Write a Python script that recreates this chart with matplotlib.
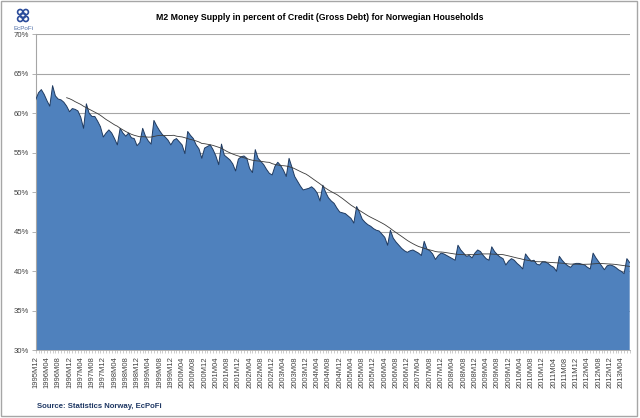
import numpy as np
import pandas as pd
import matplotlib
matplotlib.use("Agg")
import matplotlib.pyplot as plt
from matplotlib.patches import Rectangle

plt.rcParams['font.family'] = ['Liberation Sans', 'DejaVu Sans']

# M2 in percent of household gross debt, monthly from 1995M12
start = "1995-12"
m2_pct = [
    61.7,
    62.6, 63.0, 62.4, 61.6, 60.9, 63.5, 62.2, 61.8, 61.7, 61.4, 60.9, 60.2,  # 1996
    60.6, 60.5, 60.3, 59.5, 58.1, 61.2, 60.0, 59.6, 59.6, 59.0, 58.3, 57.0,  # 1997
    57.5, 57.9, 57.5, 56.8, 56.0, 58.1, 57.5, 57.1, 57.5, 56.9, 56.8, 55.9,  # 1998
    56.3, 58.1, 57.1, 56.5, 56.1, 59.1, 58.4, 57.8, 57.3, 57.0, 56.6, 56.0,  # 1999
    56.6, 56.8, 56.4, 56.0, 54.9, 57.7, 57.2, 56.8, 56.0, 55.5, 54.3, 55.6,  # 2000
    55.8, 56.0, 55.4, 54.6, 53.5, 56.1, 54.7, 54.4, 54.1, 53.6, 52.7, 54.2,  # 2001
    54.5, 54.6, 54.3, 53.0, 52.5, 55.4, 54.3, 53.9, 53.5, 52.9, 52.4, 52.2,  # 2002
    53.3, 53.8, 53.4, 52.8, 52.0, 54.3, 53.2, 52.0, 51.4, 50.8, 50.3, 50.4,  # 2003
    50.5, 50.7, 50.4, 49.9, 48.9, 50.9, 50.0, 49.3, 48.9, 48.6, 48.0, 47.5,  # 2004
    47.4, 47.3, 47.0, 46.7, 46.1, 48.2, 47.5, 46.6, 46.2, 45.9, 45.7, 45.4,  # 2005
    45.2, 45.1, 44.7, 44.3, 43.3, 45.2, 44.2, 43.7, 43.3, 42.9, 42.6, 42.4,  # 2006
    42.6, 42.7, 42.5, 42.3, 42.0, 43.8, 42.8, 42.6, 42.2, 41.5, 42.0, 42.3,  # 2007
    42.2, 42.0, 41.8, 41.6, 41.4, 43.3, 42.7, 42.3, 41.9, 42.0, 41.7, 42.3,  # 2008
    42.7, 42.5, 42.0, 41.6, 41.4, 43.1, 42.5, 42.1, 41.8, 41.6, 40.8, 41.3,  # 2009
    41.6, 41.4, 41.0, 40.7, 40.3, 42.2, 41.7, 41.3, 41.4, 40.9, 40.8, 41.2,  # 2010
    41.2, 41.0, 40.7, 40.5, 40.0, 41.9, 41.4, 41.0, 40.7, 40.5, 40.9, 41.0,  # 2011
    41.0, 40.9, 40.8, 40.5, 40.3, 42.3, 41.7, 41.2, 40.7, 40.2, 40.7, 40.8,  # 2012
    40.7, 40.5, 40.2, 40.0, 39.7, 41.6, 41.1,                                # 2013
]
periods = pd.period_range(start, periods=len(m2_pct), freq="M")
month_labels = [f"{p.year}M{p.month:02d}" for p in periods]
y_ticks = [30, 35, 40, 45, 50, 55, 60, 65, 70]

s = pd.Series(m2_pct)
trend = s.rolling(12).mean()  # 12 month moving average trendline
x = np.arange(len(s))

fig = plt.figure(figsize=(6.4, 4.18), dpi=100)
fig.patches.append(Rectangle((0.002, 0.005), 0.993, 0.992, transform=fig.transFigure,
                             fill=False, edgecolor='#A6A6A6', linewidth=1.0))
ax = fig.add_axes([35.7 / 640, 1 - 350.3 / 418, 594 / 640, 316 / 418])

ax.fill_between(x, 0, s, color='#4F81BD', linewidth=0, zorder=2)
ax.plot(x, s, color='#1F3A60', linewidth=0.7, zorder=3)
ax.plot(x, trend, color='#3A3A3A', linewidth=0.6, zorder=4)

ax.set_xlim(0, len(s) - 1)
ax.set_ylim(30, 70)
ax.set_yticks(y_ticks)
ax.set_yticklabels([f"{v}%" for v in y_ticks], fontsize=5.6, color='#404040')
ax.yaxis.grid(True, color='#A6A6A6', linewidth=0.8, zorder=1)
ax.set_axisbelow(True)

ax.set_xticks(x)
ax.set_xticklabels([lab if i % 4 == 0 else "" for i, lab in enumerate(month_labels)],
                   rotation=90, fontsize=5.5, color='#404040')
ax.tick_params(axis='x', length=2.5, width=0.4, color='#A6A6A6', pad=2)
ax.tick_params(axis='y', length=3, width=0.6, color='#A6A6A6', pad=2)

for side in ['top', 'right']:
    ax.spines[side].set_visible(False)
ax.spines['left'].set_color('#A6A6A6')
ax.spines['bottom'].set_color('#A6A6A6')
ax.spines['left'].set_linewidth(0.8)
ax.spines['bottom'].set_linewidth(0.6)

fig.text(0.50, 1 - 17 / 418, "M2 Money Supply in percent of Credit (Gross Debt) for Norwegian Households",
         ha='center', va='center', fontsize=6.3, fontweight='bold')
fig.text(37 / 640, 1 - 407 / 418, "Source: Statistics Norway, EcPoFi",
         ha='left', va='center', fontsize=5.6, fontweight='bold', color='#1F3864')

# small EcPoFi logo in the top left corner
fig.text(23 / 640, 1 - 29 / 418, "EcPoFi", ha='center', va='center', fontsize=4.5, color='#4F6FA8')
logo = fig.add_axes([16 / 640, 1 - 24 / 418, 14 / 640, 17 / 418])
logo.scatter([0.3, 0.7, 0.5, 0.3, 0.7], [0.7, 0.7, 0.5, 0.3, 0.3], s=14,
             facecolors='none', edgecolors='#2B4C9B', linewidths=1.2)
logo.set_xlim(0, 1)
logo.set_ylim(0, 1)
logo.axis('off')

fig.savefig("out.png", dpi=100)
